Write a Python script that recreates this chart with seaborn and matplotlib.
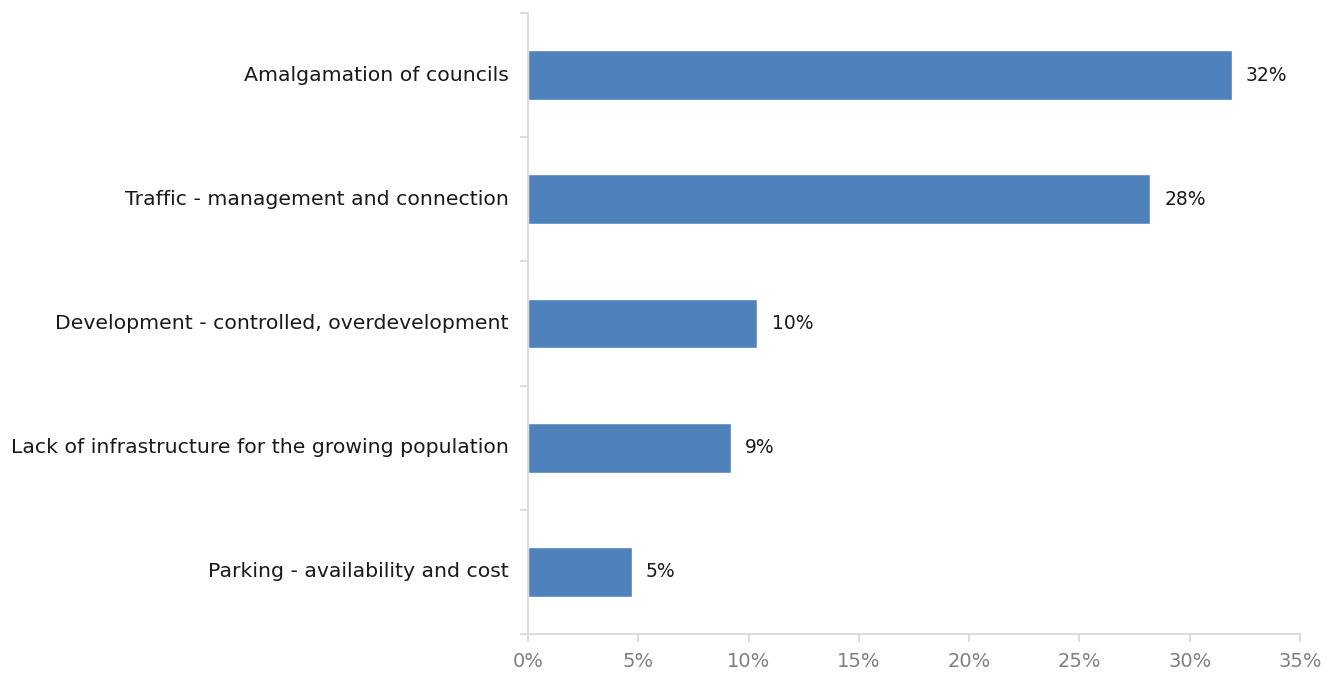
import numpy as np
import pandas as pd
import seaborn as sns
import matplotlib.pyplot as plt
from matplotlib.ticker import FixedLocator, PercentFormatter

categories = [
    "Amalgamation of councils",
    "Traffic - management and connection",
    "Development - controlled, overdevelopment",
    "Lack of infrastructure for the growing population",
    "Parking - availability and cost",
]
shares = [31.9, 28.2, 10.4, 9.2, 4.7]
x_ticks = [0, 5, 10, 15, 20, 25, 30, 35]

df = pd.DataFrame({"issue": categories, "share": shares})

sns.set_theme(style="white")
plt.rcParams["font.family"] = ["DejaVu Sans"]

fig = plt.figure(figsize=(13.4, 6.73), dpi=100)
ax = fig.add_axes([528 / 1340, 1 - 634 / 673, (1300 - 528) / 1340, (634 - 13) / 673])

sns.barplot(data=df, x="share", y="issue", orient="h", color="#4F81BD",
            width=0.4, saturation=1, ax=ax)

ax.set_xlim(0, 35)
ax.set_ylim(len(categories) - 0.5, -0.5)
ax.set_xlabel("")
ax.set_ylabel("")

grey = "#d9d9d9"
for side in ("top", "right"):
    ax.spines[side].set_visible(False)
for side in ("left", "bottom"):
    ax.spines[side].set_visible(True)
    ax.spines[side].set_color(grey)
    ax.spines[side].set_linewidth(1.3)

ax.set_xticks(x_ticks)
ax.xaxis.set_major_formatter(PercentFormatter(decimals=0))
ax.tick_params(axis="x", which="major", direction="out", length=6, width=1.3,
               color=grey, labelcolor="#7f7f7f", labelsize=14, pad=7,
               bottom=True)

ax.yaxis.set_minor_locator(FixedLocator(np.arange(-0.5, len(categories), 1.0)))
ax.tick_params(axis="y", which="minor", direction="out", length=6, width=1.3,
               color=grey, left=True)
ax.tick_params(axis="y", which="major", length=0, labelsize=14.7,
               labelcolor="#1a1a1a", pad=14)
for lbl in ax.get_yticklabels():
    lbl.set_verticalalignment("center")

for i, v in enumerate(shares):
    ax.text(v + 0.65, i, f"{v:.0f}%", va="center", ha="left",
            fontsize=13.5, color="#1a1a1a")

fig.savefig("out.png", dpi=100, facecolor="white")
